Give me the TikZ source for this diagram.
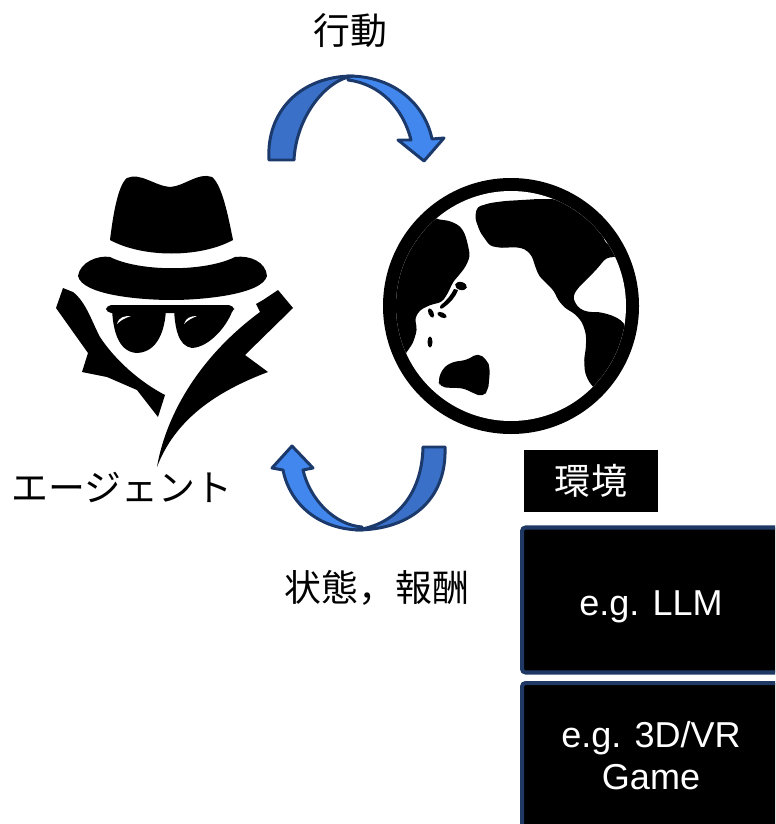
\documentclass[tikz,border=0pt]{standalone}
\usepackage{fontspec}
\setmainfont{Liberation Sans}
\newfontfamily\jpfont{Noto Sans CJK JP}
\usetikzlibrary{positioning}
\definecolor{arrdark}{RGB}{58,112,200}
\definecolor{arrlight}{RGB}{66,135,238}
\definecolor{arrline}{RGB}{27,57,107}
\definecolor{boxline}{RGB}{31,56,100}
\tikzset{
  jplbl/.style={font={\jpfont\fontsize{21pt}{24pt}\selectfont},inner sep=0pt},
  envtag/.style={fill=black,text=white,minimum width=2.7cm,minimum height=1.26cm,
    inner sep=0pt,font={\jpfont\fontsize{20.5pt}{24pt}\selectfont}},
  envbox/.style={draw=boxline,line width=2.3pt,rounded corners=2pt,fill=black,
    text=white,minimum width=5.16cm,minimum height=2.9cm,align=center,
    font={\fontsize{20.5pt}{23.8pt}\selectfont}},
  arrpart/.style={draw=arrline,line width=1.7pt,line join=round},
  land/.style={fill=black},
}

\begin{document}
\begin{tikzpicture}[x=0.02cm,y=-0.02cm]
  \path[use as bounding box] (0,0) rectangle (775,824);
  \clip (0,0) rectangle (775,824);

  % ---- agent: hat, glasses, coat ----
  \fill[land] (110,240) .. controls (113,215) and (118,185) .. (127,178)
    .. controls (140,172) and (155,186) .. (170,187)
    .. controls (185,186) and (198,172) .. (212,177)
    .. controls (222,185) and (228,215) .. (233,240)
    .. controls (200,258) and (143,258) .. cycle;
  \fill[land] (78,276) .. controls (80,262) and (98,255) .. (110,257)
    .. controls (140,272) and (205,272) .. (235,257)
    .. controls (250,255) and (266,262) .. (267,276)
    .. controls (262,295) and (200,300) .. (172,300)
    .. controls (140,300) and (82,295) .. cycle;
  % coat, left collar
  \fill[land] (63,288) -- (56,308) -- (88,353) -- (82,372) -- (107,377)
    -- (137,390) -- (158,417) -- (165,395)
    .. controls (140,382) and (115,360) .. (100,337)
    .. controls (92,322) and (86,302) .. (73,292) -- cycle;
  % coat, right collar with long lapel
  \fill[land] (278,290) -- (293,308) -- (245,355) -- (268,372)
    .. controls (215,392) and (175,420) .. (157,467)
    .. controls (165,420) and (195,360) .. (260,312)
    -- (256,304) -- (263,300) -- cycle;
  % sunglasses
  \fill[land,rounded corners=3pt] (106,305) rectangle (234,313);
  \fill[land] (112,309) -- (166,309) .. controls (165,330) and (158,352) .. (137,353)
    .. controls (118,352) and (113,330) .. cycle;
  \fill[land] (174,309) -- (233,309) .. controls (228,325) and (210,347) .. (192,348)
    .. controls (178,346) and (175,328) .. cycle;
  \fill[white] (117,324) .. controls (119,317) and (124,316) .. (131,316)
    .. controls (125,318) and (121,320) .. cycle;
  \fill[white] (184,324) .. controls (186,318) and (190,316) .. (197,316)
    .. controls (192,318) and (188,320) .. cycle;

  % ---- globe ----
  \fill[land] (511,306) circle [radius=128];
  \fill[white] (511,306) circle [radius=115];
  \begin{scope}
    \clip (511,306) circle [radius=115];
    % asia
    \fill[land,rounded corners=2pt] (436,219) -- (450,221) -- (460,226)
      -- (465,234) -- (468,245) -- (470,256) -- (466,266) -- (460,274)
      -- (453,282) -- (448,293) -- (442,302) -- (430,305) -- (420,310)
      -- (415,318) -- (417,330) -- (413,343) -- (404,356) -- (370,372)
      -- (360,250) -- (420,205) -- cycle;
    % the americas
    \fill[land,rounded corners=2pt] (477,207) -- (475,218) -- (480,232)
      -- (490,246) -- (502,248) -- (515,247) -- (525,249) -- (532,256)
      -- (535,266) -- (539,276) -- (546,283) -- (554,291) -- (558,300)
      -- (565,308) -- (575,314) -- (582,322) -- (586,334) -- (586,347)
      -- (584,360) -- (585,373) -- (589,382) -- (595,389) -- (625,410)
      -- (660,340) -- (628,329) -- (621,320) -- (611,315) -- (599,312)
      -- (588,312) -- (580,309) -- (575,303) -- (573,296) -- (578,288)
      -- (586,280) -- (596,270) -- (606,258) -- (650,252) -- (606,244)
      -- (603,236) -- (600,228) -- (592,218) -- (580,209) -- (568,203)
      -- (553,199) -- (538,199) -- (522,200) -- (505,201) -- (490,203) -- cycle;
    % crack along the south american coast
    \fill[white] (624,345) .. controls (618,365) and (608,380) .. (598,388)
      .. controls (612,376) and (621,362) .. cycle;
    % australia
    \fill[land,rounded corners=3pt] (438,380) -- (443,368) -- (452,362)
      -- (467,360) -- (478,353) -- (487,360) -- (490,368) -- (489,382)
      -- (488,390) -- (483,397) -- (473,393) -- (463,388) -- (452,388)
      -- (440,387) -- cycle;
    % japan
    \fill[land,rotate around={-15:(461,286)}] (461,286) ellipse [x radius=6,y radius=4];
    \fill[land] (458,290) .. controls (455,298) and (450,303) .. (443,308)
      .. controls (440,310) and (439,307) .. (441,305)
      .. controls (447,300) and (451,295) .. (454,289) -- cycle;
    \fill[land,rotate around={-25:(442,315)}] (442,315) ellipse [x radius=5,y radius=2.5];
    \fill[land,rotate around={25:(431,313)}] (431,313) ellipse [x radius=2.5,y radius=5];
    \fill[land] (430,342) ellipse [x radius=2.5,y radius=5.5];
  \end{scope}

  % ---- action arrow (agent to world) ----
  \path[arrpart,fill=arrlight] (348,76) .. controls (395,76) and (425,105) .. (432,139)
    -- (444,138) -- (424,161) -- (398,140) -- (411,140)
    .. controls (403,108) and (380,84) .. (348,80) -- cycle;
  \path[arrpart,fill=arrdark] (269,160) .. controls (266,112) and (300,76) .. (353,76)
    .. controls (325,80) and (296,118) .. (294,160) -- cycle;

  % ---- state/reward arrow (world to agent) ----
  \path[arrpart,fill=arrlight] (362,530) .. controls (320,530) and (290,505) .. (283,470)
    -- (272,468) -- (292,446) -- (313,468) -- (303,470)
    .. controls (310,500) and (335,525) .. (362,527) -- cycle;
  \path[arrpart,fill=arrdark] (445,447) .. controls (447,500) and (410,530) .. (356,530)
    .. controls (395,525) and (422,495) .. (423,447) -- cycle;

  % ---- labels ----
  \node[jplbl] (act) at (350,31) {行動};
  \node[jplbl] (agentlbl) at (122,487) {エージェント};
  \node[jplbl] (obs) at (377,588) {状態，報酬};

  % ---- environment examples ----
  \node[envtag] (env) at (591,481) {環境};
  \node[envbox] (llm) at (651,600) {\rule{0pt}{0.76cm}e.g. LLM};
  \node[envbox,minimum height=2.92cm] (game) at (651,756) {e.g. 3D/VR\\Game};
\end{tikzpicture}
\end{document}
